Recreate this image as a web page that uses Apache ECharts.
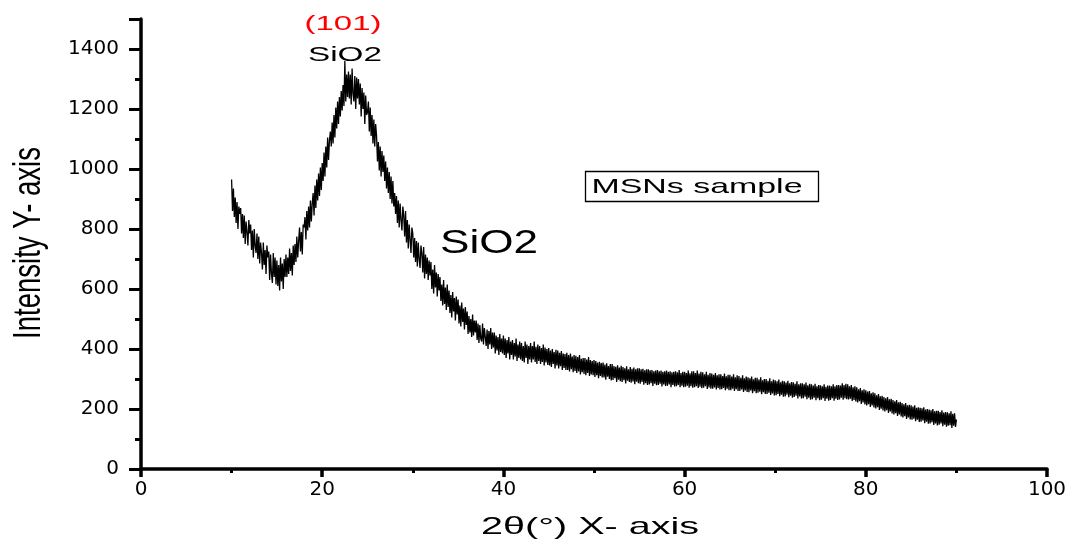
<!DOCTYPE html>
<html><head><meta charset="utf-8">
<script src="https://cdn.jsdelivr.net/npm/echarts@6/dist/echarts.min.js"></script>
<style>html,body{margin:0;padding:0;background:#fff}#c{width:1072px;height:543px}</style>
</head><body><div id="c"></div>
<script>
// 2θ sampling grid: start, step (degrees)
const thetaStart = 10;
const thetaStep = 0.1;
// intensity, 10 samples per degree from 10° to 90°
const intensity = [
965,860,935,840,905,820,890,800,875,850,
870,785,850,770,845,750,825,790,745,830,
785,815,730,795,705,800,745,720,785,700,
775,685,755,720,665,755,680,730,650,745,
705,725,630,715,650,620,720,640,705,615,
695,610,680,595,705,625,685,600,700,640,
715,640,705,650,735,660,720,645,745,680,
750,690,775,705,760,805,725,790,715,815,
805,840,765,860,795,875,805,895,825,885,
920,845,945,870,965,895,985,910,1005,930,
1020,960,1055,975,1075,1005,1105,1030,1095,1125,
1075,1155,1085,1180,1105,1205,1135,1225,1150,1240,
1175,1260,1195,1280,1210,1360,1225,1315,1240,1325,
1235,1315,1215,1335,1250,1225,1310,1200,1305,1235,
1300,1215,1285,1175,1270,1200,1255,1150,1245,1180,
1190,1225,1125,1205,1110,1180,1085,1165,1075,1150,
1110,1025,1090,995,1075,975,1060,990,1045,960,
1025,935,1005,920,990,900,975,885,960,875,
920,850,910,820,895,805,885,830,795,875,
845,775,860,755,830,735,815,765,720,805,
785,705,770,690,760,675,755,700,670,745,
720,655,740,635,715,650,705,630,695,645,
690,600,665,585,680,605,655,575,650,595,
640,560,615,545,630,550,605,530,615,540,
595,520,580,505,590,525,570,495,575,515,
565,485,545,475,555,490,535,465,540,480,
525,450,510,455,500,440,515,445,495,455,
495,430,485,420,480,435,425,485,415,470,
475,410,465,400,460,415,470,400,455,405,
455,385,445,395,440,380,450,390,435,385,
445,380,435,370,430,385,440,365,425,380,
430,365,420,375,435,360,415,370,425,365,
420,360,410,355,425,370,415,350,410,365,
420,355,410,365,425,357,407,350,415,360,
410,350,403,357,415,345,405,355,400,347,
403,345,395,340,400,350,390,335,397,345,
395,335,387,343,393,330,385,337,383,330,
387,330,380,325,385,333,375,323,380,327,
377,320,373,325,380,315,367,323,370,317,
370,313,365,320,373,310,363,315,360,313,
363,307,360,313,355,303,357,310,353,305,
355,305,348,298,352,308,343,300,350,295,
350,297,343,303,341,290,346,298,338,293,
344,290,340,296,336,285,342,294,332,290,
340,288,334,292,338,283,332,291,336,286,
336,284,332,290,334,281,329,286,332,280,
332,282,329,286,330,277,326,284,328,279,
330,280,326,284,328,275,324,282,326,277,
328,278,324,282,326,273,322,280,324,275,
326,276,322,280,330,273,320,278,324,273,
324,274,320,278,328,271,319,276,326,271,
326,273,320,276,328,270,318,274,324,269,
322,271,316,276,324,267,314,272,320,268,
318,268,314,272,320,265,312,270,316,265,
316,266,310,270,318,263,309,268,314,263,
314,263,308,268,316,260,306,266,312,260,
310,260,304,265,312,257,302,262,308,257,
306,256,302,262,308,253,299,259,304,253,
304,254,298,258,306,249,296,256,300,250,
300,250,294,254,302,247,292,252,298,245,
296,246,292,250,298,243,289,248,294,241,
292,242,288,248,294,239,286,244,290,238,
289,240,284,244,292,235,282,242,286,235,
286,236,282,241,288,233,279,238,284,231,
282,233,278,238,284,229,276,236,280,229,
279,231,276,236,282,227,274,234,278,228,
278,230,276,236,282,228,276,234,280,230,
280,232,278,238,286,231,280,236,284,233,
282,232,276,234,280,227,272,230,276,225,
272,222,266,226,270,217,262,222,266,215,
262,212,258,216,260,207,252,212,256,205,
252,202,246,206,250,197,242,201,244,195,
240,192,236,196,240,187,232,192,234,185,
230,182,226,186,230,177,222,182,224,175,
220,172,216,176,220,167,212,172,214,165,
212,164,208,168,212,159,204,164,206,157,
204,158,202,162,206,153,198,158,200,151,
198,152,196,156,200,147,192,152,194,145,
194,148,190,152,196,143,188,148,190,141,
189,144,186,146,192,137,184,144,186,140,
165
];
const xTicks = [0, 20, 40, 60, 80, 100];
const yTicks = [0, 200, 400, 600, 800, 1000, 1200, 1400];
const yMax = 1500;

const seriesData = intensity.map((v, i) => [+(thetaStart + i * thetaStep).toFixed(2), v]);

const mctx = document.createElement('canvas').getContext('2d');
function fitScale(text, font, width) { mctx.font = font; return width / mctx.measureText(text).width; }

const baseFont = '"Liberation Sans", Arial, sans-serif';
const labelFont = '"DejaVu Sans", "Liberation Sans", sans-serif';

function label(text, font, cx, cy, w, color) {
  return {
    type: 'text', x: cx, y: cy, scaleX: fitScale(text, font, w), silent: true,
    style: {text: text, fill: color, font: font, textAlign: 'center', textVerticalAlign: 'middle'}
  };
}

const xTitleFont = '24px ' + baseFont;
const yTitleFont = '26px ' + baseFont;

const chart = echarts.init(document.getElementById('c'), null, {renderer: 'canvas'});
chart.setOption({
  animation: false,
  backgroundColor: '#fff',
  grid: {left: 141, right: 25, top: 19, bottom: 74},
  xAxis: {
    type: 'value', min: xTicks[0], max: xTicks[xTicks.length - 1], interval: 20,
    axisLine: {show: true, onZero: false, lineStyle: {color: '#000', width: 3.5}},
    axisTick: {show: true, inside: false, length: 8, lineStyle: {color: '#000', width: 3.5}},
    minorTick: {show: true, splitNumber: 2, length: 4, lineStyle: {color: '#000', width: 3}},
    axisLabel: {color: '#000', fontSize: 20, fontFamily: labelFont, margin: 11},
    splitLine: {show: false}
  },
  yAxis: {
    type: 'value', min: yTicks[0], max: yMax, interval: 200,
    axisLine: {show: true, onZero: false, lineStyle: {color: '#000', width: 3.5}},
    axisTick: {show: true, inside: false, length: 12, lineStyle: {color: '#000', width: 3}},
    minorTick: {show: true, splitNumber: 2, length: 6, lineStyle: {color: '#000', width: 3}},
    axisLabel: {color: '#000', fontSize: 20, fontFamily: labelFont, margin: 22, showMaxLabel: false,
      formatter: v => String(v)},
    splitLine: {show: false}
  },
  series: [{
    type: 'line', data: seriesData, showSymbol: false, symbol: 'none',
    lineStyle: {color: '#000', width: 1.3}, silent: true
  }],
  graphic: [
    label('2θ(°) X- axis', xTitleFont, 590, 527, 218, '#000'),
    {type: 'text', x: 29, y: 243, rotation: Math.PI / 2, silent: true,
      scaleX: fitScale('Intensity Y- axis', yTitleFont, 192), scaleY: 1.5,
      style: {text: 'Intensity Y- axis', fill: '#000', font: yTitleFont, textAlign: 'center', textVerticalAlign: 'middle'}},
    label('(101)', '21px ' + baseFont, 343, 24, 77, '#ff0000'),
    label('SiO2', '21px ' + baseFont, 345, 55, 74, '#000'),
    label('SiO2', '33px ' + baseFont, 489, 244, 98, '#000'),
    {type: 'rect', shape: {x: 585.5, y: 171.5, width: 233, height: 30}, silent: true,
      style: {fill: '#fff', stroke: '#000', lineWidth: 1.3}},
    label('MSNs sample', '21px ' + baseFont, 697, 187, 211, '#000')
  ]
});
</script>
</body></html>
